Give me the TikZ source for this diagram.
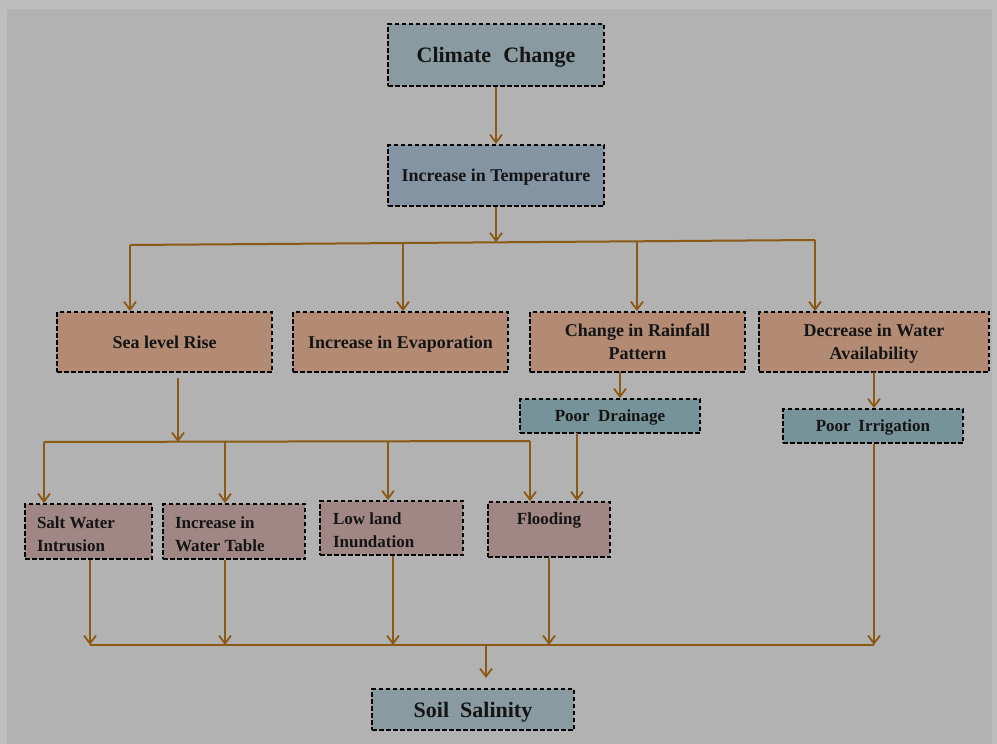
\documentclass[tikz,border=0pt]{standalone}
\usepackage{fontspec}
\setmainfont{Liberation Serif}
\usetikzlibrary{arrows.meta,calc}
\definecolor{bgout}{HTML}{BEBEBE}
\definecolor{bgin}{HTML}{B2B2B2}
\definecolor{cccol}{HTML}{899BA0}
\definecolor{itcol}{HTML}{8494A2}
\definecolor{rowtwo}{HTML}{B38B74}
\definecolor{pcol}{HTML}{77939A}
\definecolor{rowthree}{HTML}{A18686}
\definecolor{arrc}{HTML}{8B5A14}
\definecolor{txt}{HTML}{141414}
\newcommand{\celltxt}[5]{\parbox[c][#2pt][t]{#1pt}{#4\rule{0pt}{#3pt}#5}}
\begin{document}
\begin{tikzpicture}[x=1pt,y=-1pt,
  box/.style={draw=black, line width=1.7pt, dash pattern=on 4.5pt off 2.5pt,
    inner sep=0pt, text=txt, align=center,
    font=\bfseries\fontsize{18}{23}\selectfont},
  ctr/.style={text depth=0pt},
  small/.style={font=\bfseries\fontsize{17}{23}\selectfont},
  big/.style={font=\bfseries\fontsize{22}{26}\selectfont},
  arr/.style={draw=arrc, line width=2pt,
    -{Straight Barb[length=8pt,width=12pt,line width=1.8pt]}},
  ln/.style={draw=arrc, line width=2pt}]
\useasboundingbox (0,0) rectangle (997,744);
\fill[bgout] (0,0) rectangle (997,744);
\fill[bgin] (7,9) rectangle (992,744);

% nodes
\node[box, ctr, big, fill=cccol, minimum width=216pt, minimum height=62pt] (cc) at (496,55) {Climate\hspace{0.3em} Change};
\node[box, ctr, fill=itcol, minimum width=216pt, minimum height=61pt] (it) at (496,175.5) {Increase in Temperature};

\node[box, ctr, fill=rowtwo, minimum width=215pt, minimum height=60pt] (slr) at (164.5,342) {Sea level Rise};
\node[box, ctr, fill=rowtwo, minimum width=215pt, minimum height=60pt] (eva) at (400.5,342) {Increase in Evaporation};
\node[box, ctr, fill=rowtwo, minimum width=215pt, minimum height=60pt] (crp) at (637.5,342) {Change in Rainfall\\Pattern};
\node[box, ctr, fill=rowtwo, minimum width=230pt, minimum height=60pt] (dwa) at (874,342) {Decrease in Water\\Availability};

\node[box, ctr, small, fill=pcol, minimum width=180pt, minimum height=34pt] (pd) at (610,416) {Poor\hspace{0.25em} Drainage};
\node[box, ctr, small, fill=pcol, minimum width=180pt, minimum height=34pt] (pi) at (873,426) {Poor\hspace{0.2em} Irrigation};

\node[box, small, fill=rowthree, minimum width=127pt, minimum height=55pt] (swi) at (88.5,531.5)
  {\celltxt{103}{55}{24}{\raggedright}{Salt Water\\Intrusion}};
\node[box, small, fill=rowthree, minimum width=142pt, minimum height=55pt] (iwt) at (234,531.5)
  {\celltxt{118}{55}{24}{\raggedright}{Increase in\\Water Table}};
\node[box, small, fill=rowthree, minimum width=143pt, minimum height=54pt] (lli) at (391.5,528)
  {\celltxt{117}{54}{23}{\raggedright}{Low land\\Inundation}};
\node[box, small, fill=rowthree, minimum width=122pt, minimum height=55pt] (fl) at (549,529.5)
  {\celltxt{100}{55}{22}{\centering}{Flooding}};

\node[box, ctr, big, fill=cccol, minimum width=202pt, minimum height=41pt] (ss) at (473,709.5) {Soil\hspace{0.25em} Salinity};

% connectors: top
\draw[arr] (cc) -- (it);
\coordinate (b1L) at (130,245);
\coordinate (b1R) at (815,240);
\coordinate (b1T) at ($(b1L)!0.534!(b1R)$);
\coordinate (b1E) at ($(b1L)!0.3985!(b1R)$);
\coordinate (b1C) at ($(b1L)!0.740!(b1R)$);
\draw[ln] (b1L) -- (b1R);
\draw[arr] (it.south) -- (it.south |- b1T);
\draw[arr] (b1L) -- (b1L |- slr.north);
\draw[arr] (b1E) -- (b1E |- eva.north);
\draw[arr] (b1C) -- (b1C |- crp.north);
\draw[arr] (b1R) -- (b1R |- dwa.north);

% sea level rise bus
\coordinate (s1) at (178,378);
\coordinate (b2L) at (44,442);
\coordinate (b2R) at (530,441);
\coordinate (b2W) at (225,442);
\coordinate (b2I) at (388,441);
\draw[arr] (s1) -- (s1 |- b2L);
\draw[ln] (b2L) -- (b2R);
\draw[arr] (b2L) -- (b2L |- swi.north);
\draw[arr] (b2W) -- (b2W |- iwt.north);
\draw[arr] (b2I) -- (b2I |- lli.north);
\draw[arr] (b2R) -- (b2R |- fl.north);

% rainfall / water availability
\coordinate (r1) at (620,372);
\draw[arr] (r1) -- (r1 |- pd.north);
\coordinate (r2) at (577,433);
\draw[arr] (r2) -- (r2 |- fl.north);
\coordinate (w1) at (874,372);
\draw[arr] (w1) -- (w1 |- pi.north);

% bottom bus
\coordinate (c1) at (90,645);
\coordinate (c2) at (225,645);
\coordinate (c3) at (393,645);
\coordinate (c4) at (549,645);
\coordinate (c5) at (874,645);
\coordinate (c0) at (486,645);
\coordinate (c0e) at (486,678);
\draw[ln] (c1) -- (c5);
\draw[arr] (swi.south -| c1) -- (c1);
\draw[arr] (iwt.south -| c2) -- (c2);
\draw[arr] (lli.south -| c3) -- (c3);
\draw[arr] (fl.south -| c4) -- (c4);
\draw[arr] (pi.south -| c5) -- (c5);
\draw[arr] (c0) -- (c0e);
\end{tikzpicture}
\end{document}
